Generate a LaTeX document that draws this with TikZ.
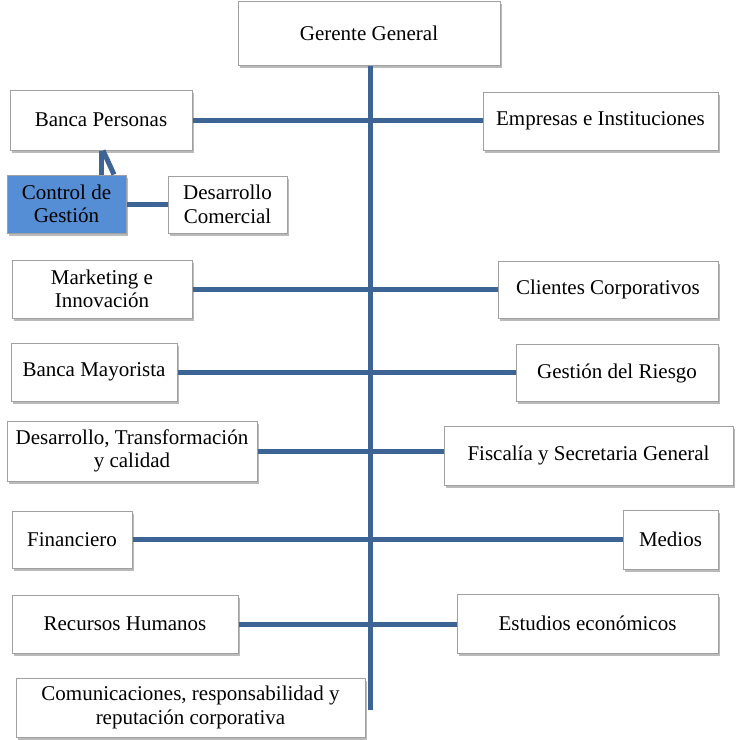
\documentclass[tikz,border=0pt]{standalone}
\usepackage{fontspec}
\setmainfont{Liberation Serif}
\newfontfamily\boxfont{Liberation Serif}
\usetikzlibrary{shadows}
\definecolor{linkblue}{RGB}{60,100,148}
\definecolor{boxblue}{RGB}{85,142,213}
\definecolor{boxgray}{RGB}{160,160,160}
\tikzset{ unit/.style = { rectangle % unit box
, draw = boxgray
, line width = 1pt
, fill = white
, align = center
, inner sep = 2pt
, font = \boxfont\fontsize{21}{23.5}\selectfont
, drop shadow = {shadow xshift=1.5pt, shadow yshift=-2.5pt, opacity=0.45, fill=black!60}
}
, unit_sel/.style = { unit % selected unit
, fill = boxblue
}
}

\begin{document}
\begin{tikzpicture}[x=1pt, y=-1pt,
        edge_style/.style={draw=linkblue, line width=5pt}]
        \useasboundingbox (0,0) rectangle (740,740);

            \node [unit, minimum width=262pt, minimum height=64pt](gg) at (369,33) {Gerente General};
            \node [unit, minimum width=182pt, minimum height=60pt](bp) at (101,120) {Banca Personas};
            \node [unit, minimum width=235pt, minimum height=58pt](ei) at (600.5,121) {Empresas e Instituciones};
            \node [unit_sel, minimum width=119pt, minimum height=58pt](cg) at (66.5,204) {Control de\\Gestión};
            \node [unit, minimum width=119pt, minimum height=57pt](dc) at (227.5,204.5) {Desarrollo\\Comercial};
            \node [unit, minimum width=180pt, minimum height=58pt](mi) at (102,289) {Marketing e\\Innovación};
            \node [unit, minimum width=220pt, minimum height=57pt](cc) at (608,289.5) {Clientes Corporativos};
            \node [unit, minimum width=166pt, minimum height=58pt](bm) at (94,372) {Banca Mayorista};
            \node [unit, minimum width=202pt, minimum height=57pt](gr) at (617,373) {Gestión del Riesgo};
            \node [unit, minimum width=250pt, minimum height=60pt](dt) at (132,451) {Desarrollo, Transformación\\y calidad};
            \node [unit, minimum width=289pt, minimum height=59pt](fs) at (588.5,455.5) {Fiscalía y Secretaria General};
            \node [unit, minimum width=120pt, minimum height=57pt](fi) at (72,539.5) {Financiero};
            \node [unit, minimum width=95pt, minimum height=59pt](me) at (670.5,539.5) {Medios};
            \node [unit, minimum width=226pt, minimum height=58pt](rh) at (125,624) {Recursos Humanos};
            \node [unit, minimum width=261pt, minimum height=59pt](ee) at (587.5,623.5) {Estudios económicos};
            \node [unit, minimum width=349pt, minimum height=59pt](cr) at (190.5,707.5) {Comunicaciones, responsabilidad y\\reputación corporativa};

            \coordinate (trunk_end) at (370,710);
            \draw [edge_style] ([xshift=1pt]gg.south) -- (trunk_end);
            \draw [edge_style] (bp.east) -- (bp.east -| ei.west);
            \draw [edge_style] (mi.east) -- (mi.east -| cc.west);
            \draw [edge_style] (bm.east) -- (bm.east -| gr.west);
            \draw [edge_style] (dt.east) -- (dt.east -| fs.west);
            \draw [edge_style] (fi.east) -- (fi.east -| me.west);
            \draw [edge_style] (rh.east) -- (rh.east -| ee.west);
            \draw [edge_style] (bp.south) -- (bp.south |- cg.north);
            \draw [edge_style] ([xshift=2pt]bp.south) -- ([xshift=13pt]bp.south |- cg.north);
            \draw [edge_style] (cg.east) -- (cg.east -| dc.west);

        \end{tikzpicture}
\end{document}
